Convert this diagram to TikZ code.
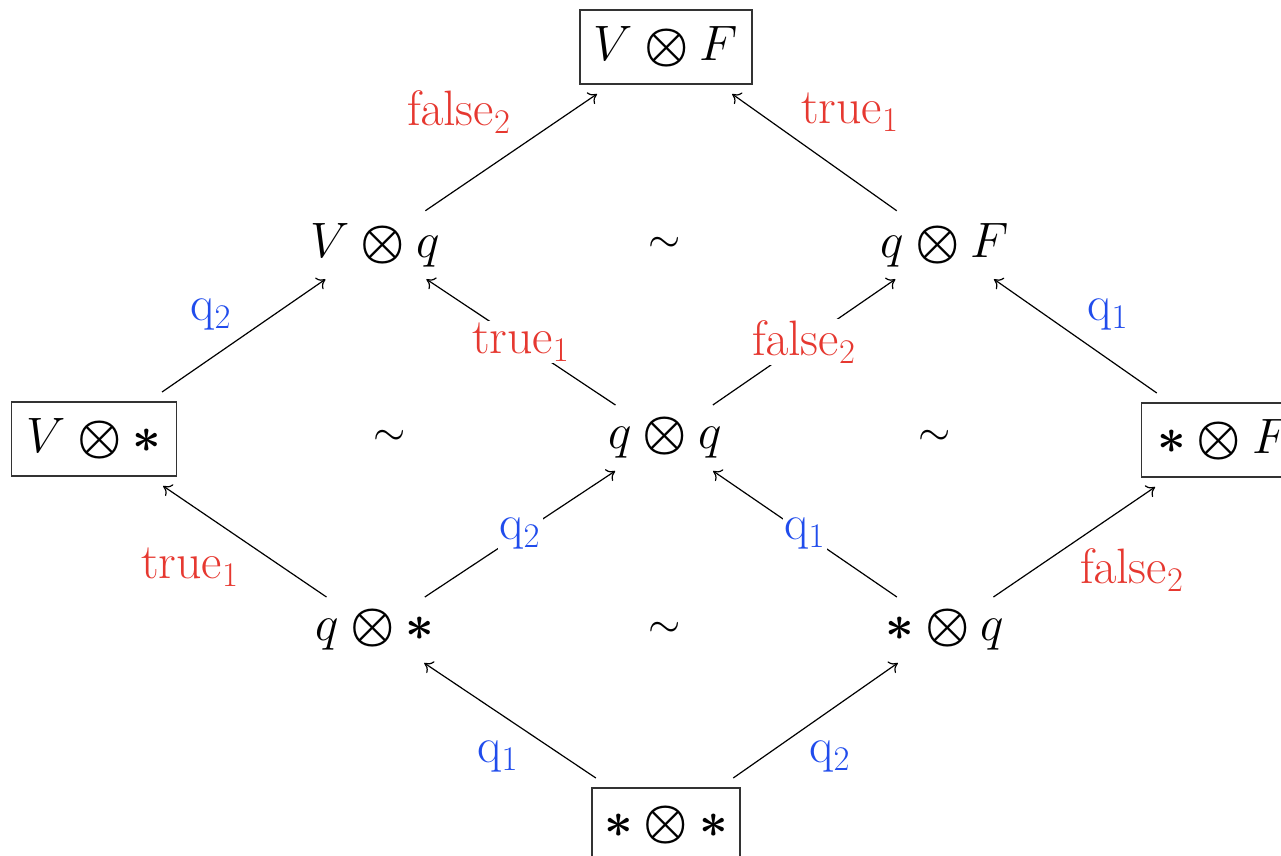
\documentclass[tikz,border=0pt]{standalone}
\usepackage{amsmath}
\usetikzlibrary{arrows.meta}
\definecolor{lblred}{RGB}{230,56,48}
\definecolor{lblblue}{RGB}{32,76,236}
\newcommand{\ot}{\mathbin{\boldsymbol{\otimes}}}
\newcommand{\st}{\boldsymbol{*}}
\begin{document}
\begin{tikzpicture}[x=0.5pt,y=-0.5pt,
  obj/.style={font=\fontsize{28}{34}\selectfont, inner sep=6pt},
  boxobj/.style={obj, draw=black!80, line width=0.6pt, minimum height=37pt, outer sep=5pt},
  arr/.style={-{To[length=4pt,width=7pt]}, line width=0.6pt},
  lbl/.style={font=\fontsize{26}{30}\selectfont, inner sep=1pt},
  rl/.style={lbl, text=lblred},
  bl/.style={lbl, text=lblblue},
  online/.style={fill=white, pos=0.5},
  sim/.style={font=\fontsize{21}{26}\selectfont}]
\useasboundingbox (0,0) rectangle (1281,856);

\node[boxobj, minimum width=86pt] (VF) at (666,47) {$V\ot F$};
\node[obj] (Vq) at (375,245) {$V\ot q$};
\node[obj] (qF) at (945,245) {$q\ot F$};
\node[boxobj, minimum width=82.5pt] (Vs) at (94,439) {$V\ot \st$};
\node[obj] (qq) at (665,438) {$q\ot q$};
\node[boxobj, minimum width=82.5pt] (sF) at (1224,440) {$\st\ot F$};
\node[obj] (qs) at (375,630) {$q\ot \st$};
\node[obj] (sq) at (945,630) {$\st\ot q$};
\node[boxobj, minimum width=72.5pt] (ss) at (666,825) {$\st\ot \st$};

\node[sim] (t1) at (665,245) {$\sim$};
\node[sim] (t2) at (390,438) {$\sim$};
\node[sim] (t3) at (935,438) {$\sim$};
\node[sim] (t4) at (665,630) {$\sim$};

\draw[arr] (Vq) -- (VF);
\draw[arr] (qF) -- (VF);
\draw[arr] (Vs) -- (Vq);
\draw[arr] (qq) -- node[rl,online] (m1) {$\mathrm{true}_1$} (Vq);
\draw[arr] (qq) -- node[rl,online] (m2) {$\mathrm{false}_2$} (qF);
\draw[arr] (sF) -- (qF);
\draw[arr] (qs) -- (Vs);
\draw[arr] (qs) -- node[bl,online] (m3) {$\mathrm{q}_2$} (qq);
\draw[arr] (sq) -- node[bl,online] (m4) {$\mathrm{q}_1$} (qq);
\draw[arr] (sq) -- (sF);
\draw[arr] (ss) -- (qs);
\draw[arr] (ss) -- (sq);

\node[rl] (l1) at (459,112) {$\mathrm{false}_2$};
\node[rl] (l2) at (850,112) {$\mathrm{true}_1$};
\node[bl] (l3) at (211,315) {$\mathrm{q}_2$};
\node[bl] (l4) at (1108,315) {$\mathrm{q}_1$};
\node[rl] (l5) at (190,567) {$\mathrm{true}_1$};
\node[rl] (l6) at (1132,570) {$\mathrm{false}_2$};
\node[bl] (l7) at (498,757) {$\mathrm{q}_1$};
\node[bl] (l8) at (830,757) {$\mathrm{q}_2$};
\end{tikzpicture}
\end{document}
